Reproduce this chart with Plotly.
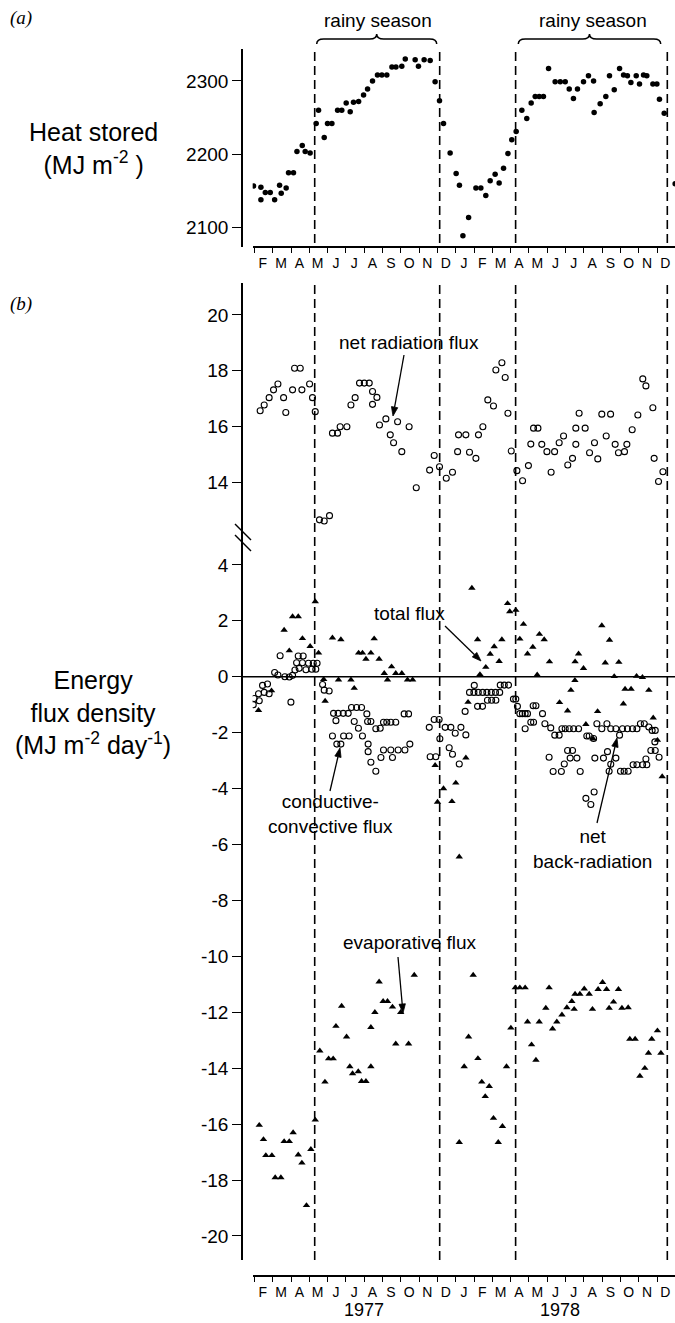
import math
import plotly.graph_objects as go

W, H = 675, 1323
FONT = "Liberation Sans"

# Time axis: decimal month index, 0 = start of January 1977
month_starts = list(range(1, 25))
month_letters = ["F", "M", "A", "M", "J", "J", "A", "S", "O", "N", "D",
                 "J", "F", "M", "A", "M", "J", "J", "A", "S", "O", "N", "D"]
year_labels = ["1977", "1978"]
year_centres = [7.0, 17.7]

# Onset and end of the two rainy seasons
rain_onset = [4.29, 15.27]
rain_end = [11.12, 23.56]

# (a) Heat stored in the lake (MJ m-2)
heat_month = [0.95, 1.35, 1.35, 1.59, 1.86, 2.10, 2.37, 2.46, 2.73, 2.86,
              3.13, 3.32, 3.61, 3.77, 4.04, 4.37, 4.50, 4.81, 4.99, 5.23,
              5.54, 5.77, 6.01, 6.23, 6.41, 6.69, 6.96, 7.18, 7.45, 7.72,
              7.96, 8.23, 8.51, 8.73, 9.05, 9.24, 9.78, 9.96, 10.27, 10.60,
              10.87, 11.11, 11.33, 11.69, 12.02, 12.20, 12.39, 12.70, 13.10, 13.37,
              13.64, 13.88, 14.15, 14.37, 14.61, 14.85, 15.06, 15.30, 15.61, 15.88,
              16.12, 16.34, 16.56, 16.79, 17.07, 17.43, 17.71, 17.98, 18.20, 18.43,
              18.65, 18.98, 19.25, 19.53, 19.56, 19.89, 20.20, 20.40, 20.66, 20.95,
              21.17, 21.38, 21.57, 21.86, 22.04, 22.26, 22.44, 22.77, 22.99, 23.13,
              23.39, 23.99]
heat_value = [2157, 2155, 2138, 2148, 2148, 2138, 2158, 2147, 2154, 2175,
              2175, 2204, 2212, 2204, 2202, 2242, 2260, 2223, 2242, 2242,
              2260, 2260, 2270, 2258, 2271, 2272, 2281, 2289, 2300, 2308,
              2308, 2308, 2319, 2319, 2320, 2330, 2329, 2320, 2329, 2328,
              2299, 2273, 2242, 2202, 2174, 2158, 2089, 2114, 2154, 2154,
              2144, 2164, 2173, 2161, 2181, 2201, 2220, 2231, 2260, 2249,
              2270, 2279, 2279, 2279, 2317, 2299, 2299, 2299, 2289, 2276,
              2289, 2299, 2307, 2300, 2257, 2269, 2279, 2307, 2288, 2317,
              2308, 2307, 2298, 2307, 2296, 2308, 2307, 2296, 2296, 2275,
              2256, 2160]

# (b) Net radiation flux (MJ m-2 day-1)
netrad_month = [1.31, 1.53, 1.80, 2.04, 2.28, 2.59, 2.71, 3.08, 3.19, 3.50,
                3.59, 4.01, 4.17, 4.32, 4.55, 4.81, 5.10, 5.26, 5.54, 5.68,
                6.05, 6.27, 6.50, 6.74, 7.00, 7.27, 7.45, 7.45, 7.69, 7.83,
                8.18, 8.42, 8.60, 8.82, 9.05, 9.45, 9.84, 10.57, 10.82, 11.11,
                11.48, 11.82, 12.10, 12.15, 12.55, 12.75, 13.10, 13.24, 13.48, 13.75,
                14.06, 14.19, 14.52, 14.70, 14.85, 15.03, 15.34, 15.65, 15.97, 16.10,
                16.25, 16.49, 16.70, 16.98, 17.21, 17.40, 17.65, 17.89, 18.12, 18.38,
                18.56, 18.56, 18.74, 19.07, 19.31, 19.58, 19.76, 19.98, 20.22, 20.46,
                20.71, 20.89, 21.22, 21.35, 21.64, 21.95, 22.22, 22.39, 22.77, 22.84,
                23.08, 23.32]
netrad_value = [16.57, 16.78, 17.04, 17.32, 17.53, 17.04, 16.51, 17.32, 18.09, 18.09,
                17.32, 17.53, 17.04, 16.54, 12.67, 12.63, 12.82, 15.77, 15.77, 16.00,
                16.00, 16.78, 17.04, 17.56, 17.56, 17.56, 17.26, 16.80, 17.05, 16.06,
                16.28, 15.71, 15.43, 16.18, 15.11, 16.00, 13.82, 14.45, 14.97, 14.57,
                14.16, 14.37, 15.11, 15.71, 15.71, 15.09, 14.87, 15.71, 16.00, 16.96,
                16.74, 18.03, 18.29, 17.76, 16.48, 15.13, 14.43, 14.07, 14.61, 15.38,
                15.95, 15.95, 15.37, 15.11, 14.37, 15.11, 15.43, 15.67, 14.63, 14.87,
                15.95, 15.37, 16.48, 15.95, 15.07, 15.43, 14.85, 16.45, 15.67, 16.45,
                15.37, 15.07, 15.11, 15.37, 15.89, 16.42, 17.71, 17.46, 16.68, 14.87,
                14.04, 14.39]

# Total flux
total_month = [1.22, 1.93, 2.62, 2.90, 3.08, 3.39, 3.62, 4.04, 4.32, 4.50,
               4.78, 4.86, 5.26, 5.59, 5.72, 6.27, 6.45, 6.69, 6.90, 7.09,
               7.36, 7.54, 7.81, 8.09, 8.27, 8.49, 8.72, 9.05, 9.36, 9.64,
               10.87, 11.00, 11.33, 11.79, 12.00, 12.19, 12.55, 12.67, 12.88, 13.19,
               13.32, 13.64, 13.88, 14.10, 14.37, 14.52, 14.83, 14.95, 15.28, 15.50,
               15.70, 15.92, 16.21, 16.45, 16.57, 16.83, 17.12, 17.67, 18.11, 18.29,
               18.51, 18.52, 18.71, 18.98, 19.11, 19.51, 19.75, 19.98, 20.17, 20.40,
               20.66, 20.91, 21.16, 21.25, 21.58, 21.88, 22.20, 22.55, 22.79, 23.02,
               23.28]
total_value = [-1.20, -0.50, 1.67, 0.93, 2.15, 2.15, 1.37, 1.09, 2.69, 0.85,
               -0.09, -0.87, 1.39, -0.11, 1.33, -0.11, -0.41, 0.85, 0.85, 0.63,
               0.85, 1.36, 0.63, 0.12, -0.11, 0.36, 0.12, 0.12, -0.11, -0.11,
               -3.17, -4.48, -4.00, -4.46, -3.80, -6.44, -2.90, -0.91, 3.17, 1.33,
               0.08, 0.34, 0.81, 1.08, 0.55, 1.33, 2.62, 2.33, 2.38, 1.35,
               1.88, 0.82, 1.06, 0.07, 1.52, 1.33, 0.54, -0.92, -1.22, -0.48,
               -0.13, 0.54, 0.82, 0.30, -1.70, -2.22, -1.24, 1.83, 0.50, 1.31,
               0.01, 0.52, -0.97, -0.44, -0.44, 0.02, -0.02, -0.48, -1.47, -2.27,
               -3.57]

# Conductive-convective flux
cond_month = [2.10, 2.28, 2.40, 2.66, 2.90, 3.08, 3.21, 3.30, 3.39, 3.44,
              3.62, 3.66, 3.81, 3.95, 4.13, 4.21, 4.35, 4.42,
              5.26, 5.50, 5.72, 5.87, 6.17, 6.90, 7.21, 7.21, 7.36, 7.63,
              7.91, 8.05, 8.45, 8.54, 8.85, 9.22, 9.49,
              10.60, 10.91, 11.13, 11.64, 11.82, 12.19, 12.55,
              12.75, 12.99, 13.23, 13.47, 13.70, 13.94, 14.17, 14.40,
              13.01, 14.43, 14.65, 14.88,
              17.10, 17.32, 17.77, 17.93, 18.11, 18.25, 18.38, 18.62, 18.80, 19.11,
              19.38, 19.56, 19.60, 20.07, 20.29, 20.38, 20.47, 20.75, 21.00, 21.20,
              21.42, 21.69, 21.90, 22.21, 22.39, 22.44, 22.66, 22.88, 22.90, 23.11]
cond_value = [0.15, 0.06, 0.75, 0.00, -0.01, 0.05, 0.24, 0.50, 0.74, 0.30,
              0.50, 0.74, 0.25, 0.48, 0.27, 0.48, 0.27, 0.48,
              -2.12, -2.41, -2.41, -2.12, -2.12, -2.12, -2.41, -2.68, -3.06, -3.38,
              -2.89, -2.62, -2.62, -2.89, -2.62, -2.62, -2.41,
              -2.86, -2.86, -2.22, -2.54, -2.77, -3.12, -2.08,
              -0.56, -0.56, -0.56, -0.56, -0.56, -0.56, -0.56, -0.56,
              -0.31, -0.30, -0.30, -0.30,
              -2.88, -3.39, -3.39, -3.12, -2.64, -2.91, -2.64, -2.91, -3.39, -4.35,
              -4.57, -4.12, -2.91, -2.91, -2.68, -3.38, -3.13, -2.91, -3.38, -3.38,
              -3.38, -3.15, -3.15, -3.15, -2.94, -3.15, -2.64, -2.33, -2.64, -2.88]

# Net back-radiation
backrad_month = [0.93, 0.98, 1.22, 1.26, 1.44, 1.53, 1.71, 1.80, 2.99,
                 4.72, 4.81, 5.08, 5.32, 5.45, 5.57, 5.85, 6.12, 6.30, 6.45,
                 6.58, 6.68, 6.85, 7.14, 7.18, 7.36, 7.63, 7.87, 8.05, 8.23,
                 8.45, 8.72, 9.18, 9.42,
                 10.55, 10.82, 11.09, 11.42, 11.73, 11.97, 12.28, 12.51,
                 13.19, 13.46, 13.73, 13.96, 14.19,
                 15.15, 15.28, 15.37, 15.50, 15.64, 15.79, 15.92, 15.79, 16.10, 16.23,
                 16.25, 16.38, 16.74, 16.87, 17.19, 17.41, 17.65, 17.80, 17.98, 18.20,
                 18.44, 18.71, 19.16, 19.29, 19.53, 19.71, 19.98, 20.26, 20.47, 20.75,
                 20.95, 21.11, 21.38, 21.66, 21.90, 22.09, 22.30, 22.55, 22.73, 22.90]
backrad_value = [-1.00, -0.78, -0.61, -0.86, -0.31, -0.56, -0.26, -0.61, -0.91,
                 -0.28, -0.48, -0.51, -1.31, -1.57, -1.31, -1.31, -1.31, -1.10, -1.60,
                 -1.10, -1.84, -1.10, -1.33, -1.60, -1.60, -1.86, -1.84, -1.63, -1.63,
                 -1.63, -1.63, -1.33, -1.33,
                 -1.81, -1.53, -1.53, -1.81, -1.81, -2.02, -1.81, -1.24,
                 -1.06, -1.06, -0.84, -0.84, -0.84,
                 -0.80, -0.80, -1.06, -1.32, -1.32, -1.32, -1.32, -1.86, -1.63, -1.04,
                 -1.63, -1.04, -1.32, -1.68, -1.83, -2.09, -2.09, -1.86, -1.86, -1.86,
                 -1.86, -1.86, -2.12, -2.12, -2.21, -1.68, -1.86, -1.68, -1.86, -1.86,
                 -2.09, -1.86, -1.86, -1.86, -1.86, -1.68, -1.68, -1.80, -1.92, -1.92]

# Evaporative flux
evap_month = [1.26, 1.49, 1.62, 1.95, 2.13, 2.44, 2.62, 2.90, 3.11, 3.39,
              3.59, 3.84, 4.08, 4.32, 4.57, 4.85, 5.05, 5.30, 5.45, 5.76,
              6.03, 6.21, 6.36, 6.67, 6.85, 7.09, 7.36, 7.36, 7.58, 7.81,
              8.03, 8.27, 8.54, 8.72, 8.99, 9.42, 9.73,
              12.19, 12.46, 12.70, 12.95, 13.21, 13.42, 13.61, 13.83, 14.06, 14.32,
              14.55, 14.77, 15.01, 15.25, 15.50, 15.79, 15.92, 16.14, 16.38, 16.56,
              16.92, 17.10, 17.29, 17.52, 17.80, 18.07, 18.34, 18.47, 18.52, 18.78,
              19.02, 19.29, 19.47, 19.78, 20.02, 20.24, 20.38, 20.62, 20.89, 21.08,
              21.42, 21.51, 21.80, 22.06, 22.33, 22.53, 22.71, 23.02, 23.21]
evap_value = [-16.04, -16.55, -17.12, -17.12, -17.91, -17.91, -16.62, -16.62, -16.30, -17.10,
              -17.39, -18.91, -16.90, -15.85, -13.38, -14.49, -13.66, -13.66, -12.50, -11.78,
              -12.88, -13.94, -14.19, -14.12, -14.47, -14.47, -13.94, -12.54, -12.00, -10.91,
              -11.61, -11.61, -11.81, -13.13, -12.00, -13.13, -10.67,
              -16.65, -13.94, -12.88, -10.67, -13.65, -14.49, -15.01, -14.65, -15.79, -16.65,
              -16.08, -13.94, -12.56, -11.12, -11.12, -11.12, -12.34, -13.16, -13.71, -12.34,
              -11.85, -11.12, -12.59, -12.34, -12.09, -11.83, -11.61, -11.89, -11.35, -11.35,
              -11.16, -11.35, -11.89, -11.18, -10.93, -11.18, -11.85, -11.63, -11.18, -11.85,
              -11.83, -12.96, -12.96, -14.28, -14.00, -13.46, -12.96, -12.66, -13.46]

heat_ticks = [2100, 2200, 2300]
upper_ticks = [14, 16, 18, 20]
lower_ticks = list(range(4, -21, -2))


def PX(x):
    return x / W


def PY(y):
    return 1 - y / H


BLACK = "black"
X_RANGE = [0.9, 23.98]
X_DOMAIN = [PX(252.67), 1.0]
Y_POS = PX(242)

fig = go.Figure()

fig.add_trace(go.Scatter(x=heat_month, y=heat_value, mode="markers", xaxis="x", yaxis="y",
                         marker=dict(symbol="circle", size=5.5, color=BLACK), showlegend=False))

open_marker = dict(symbol="circle-open", size=6, color=BLACK, line=dict(width=1.1, color=BLACK))
tri_marker = dict(symbol="triangle-up", size=6.5, color=BLACK, line=dict(width=0))

fig.add_trace(go.Scatter(x=netrad_month, y=netrad_value, mode="markers", xaxis="x2", yaxis="y2",
                         marker=open_marker, showlegend=False))
fig.add_trace(go.Scatter(x=backrad_month, y=backrad_value, mode="markers", xaxis="x2", yaxis="y3",
                         marker=open_marker, showlegend=False))
fig.add_trace(go.Scatter(x=cond_month, y=cond_value, mode="markers", xaxis="x2", yaxis="y3",
                         marker=open_marker, showlegend=False))
fig.add_trace(go.Scatter(x=total_month, y=total_value, mode="markers", xaxis="x2", yaxis="y3",
                         marker=tri_marker, showlegend=False))
fig.add_trace(go.Scatter(x=evap_month, y=evap_value, mode="markers", xaxis="x2", yaxis="y3",
                         marker=tri_marker, showlegend=False))


def month_axis(position):
    return dict(
        domain=X_DOMAIN, range=X_RANGE, anchor="free", position=position,
        showline=True, linewidth=1.6, linecolor=BLACK, showgrid=False, zeroline=False,
        tickmode="array", tickvals=[m + 0.45 for m in month_starts[:-1]], ticktext=month_letters,
        ticks="outside", ticklen=4, tickcolor="rgba(0,0,0,0)",
        tickfont=dict(family=FONT, size=14, color=BLACK),
        minor=dict(tickmode="array", tickvals=month_starts, ticks="outside", ticklen=6,
                   tickwidth=1.3, tickcolor=BLACK, showgrid=False),
    )


def value_axis(domain, rng, ticks):
    return dict(
        domain=domain, range=rng, anchor="free", position=Y_POS,
        showline=True, linewidth=1.6, linecolor=BLACK, showgrid=False, zeroline=False,
        tickmode="array", tickvals=ticks, ticktext=[str(t) for t in ticks],
        ticks="outside", ticklen=9, tickwidth=1.3, tickcolor=BLACK,
        tickfont=dict(family=FONT, size=19, color=BLACK),
    )


shapes = []
# rainy season boundaries
for m in rain_onset + rain_end:
    for (yt, yb, xr) in [(50, 243, "x"), (283, 1260, "x2")]:
        shapes.append(dict(type="line", xref=xr, yref="paper", x0=m, x1=m, y0=PY(yb), y1=PY(yt),
                           line=dict(color=BLACK, width=1.6, dash="9px,5px")))
# zero line of the flux panel
shapes.append(dict(type="line", xref="paper", yref="y3", x0=Y_POS, x1=1.0, y0=0, y1=0,
                   line=dict(color=BLACK, width=1.6)))
# axis break marks
for dy in (0, 11):
    shapes.append(dict(type="line", xref="paper", yref="paper",
                       x0=PX(235), y0=PY(524 + dy), x1=PX(251), y1=PY(540 + dy),
                       line=dict(color=BLACK, width=1.4)))


def brace(x0, x1, y_flat=39, y_end=44, y_tip=34, r=7):
    xm = (x0 + x1) / 2
    pts = [
        ("M", [(x0, y_end)]),
        ("Q", [(x0, y_flat), (x0 + r, y_flat)]),
        ("L", [(xm - r, y_flat)]),
        ("Q", [(xm, y_flat), (xm, y_tip)]),
        ("Q", [(xm, y_flat), (xm + r, y_flat)]),
        ("L", [(x1 - r, y_flat)]),
        ("Q", [(x1, y_flat), (x1, y_end)]),
    ]
    out = []
    for cmd, coords in pts:
        out.append(cmd + " " + " ".join(f"{PX(x):.5f},{PY(y):.5f}" for x, y in coords))
    return " ".join(out)


for x0, x1 in [(316.7, 436.7), (518.3, 660.7)]:
    shapes.append(dict(type="path", xref="paper", yref="paper", path=brace(x0, x1),
                       line=dict(color=BLACK, width=1.5)))


def arrow(head, tail, length=9, half=3.2):
    """Pointer line with a filled triangular head, in page pixels."""
    hx, hy = head
    tx, ty = tail
    d = math.hypot(hx - tx, hy - ty)
    ux, uy = (hx - tx) / d, (hy - ty) / d
    bx, by = hx - ux * length, hy - uy * length
    shapes.append(dict(type="line", xref="paper", yref="paper",
                       x0=PX(tx), y0=PY(ty), x1=PX(bx), y1=PY(by),
                       line=dict(color=BLACK, width=1.3)))
    p1 = (bx - uy * half, by + ux * half)
    p2 = (bx + uy * half, by - ux * half)
    path = (f"M {PX(hx):.5f},{PY(hy):.5f} L {PX(p1[0]):.5f},{PY(p1[1]):.5f} "
            f"L {PX(p2[0]):.5f},{PY(p2[1]):.5f} Z")
    shapes.append(dict(type="path", xref="paper", yref="paper", path=path,
                       fillcolor=BLACK, line=dict(color=BLACK, width=0.8)))


annotations = []


def text(t, x, y, size=19, family=FONT, **kw):
    annotations.append(dict(text=t, x=PX(x), y=PY(y), xref="paper", yref="paper",
                            showarrow=False, xanchor="center", yanchor="middle",
                            font=dict(family=family, size=size, color=BLACK), **kw))


text("rainy season", 378, 21)
text("rainy season", 593, 21)
text("<i>(a)</i>", 21, 18, size=19, family="Liberation Serif")
text("<i>(b)</i>", 21, 304, size=19, family="Liberation Serif")
text("Heat stored<br>(MJ m<sup>-2</sup> )", 93, 148, size=25)
text("Energy<br>flux density<br>(MJ m<sup>-2</sup> day<sup>-1</sup>)", 93, 712, size=25)

text("net radiation flux", 409, 342)
arrow((393, 416), (404, 355))
text("total flux", 409, 613)
arrow((481, 661), (445, 626))
text("conductive-<br>convective flux", 330, 814)
arrow((340, 748), (330, 791))
text("net<br>back-radiation", 592, 849)
arrow((617, 738), (597, 823))
text("evaporative flux", 410, 943)
arrow((403, 1013), (398, 957))

for lbl, m in zip(year_labels, year_centres):
    annotations.append(dict(text=lbl, x=m, y=PY(1322), xref="x2", yref="paper", showarrow=False,
                            xanchor="center", yanchor="bottom",
                            font=dict(family=FONT, size=18, color=BLACK)))

fig.update_layout(
    width=W, height=H, margin=dict(l=0, r=0, t=0, b=0),
    paper_bgcolor="white", plot_bgcolor="white", showlegend=False,
    font=dict(family=FONT, color=BLACK),
    xaxis=month_axis(PY(246.5)),
    xaxis2=month_axis(PY(1275.5)),
    yaxis=value_axis([PY(247), PY(49)], [2073.7, 2343.6], heat_ticks),
    yaxis2=value_axis([PY(540), PY(283)], [11.95, 21.14], upper_ticks),
    yaxis3=value_axis([PY(1260), PY(540)], [-20.86, 4.89], lower_ticks),
    shapes=shapes, annotations=annotations,
)

fig.write_html("out.html")
